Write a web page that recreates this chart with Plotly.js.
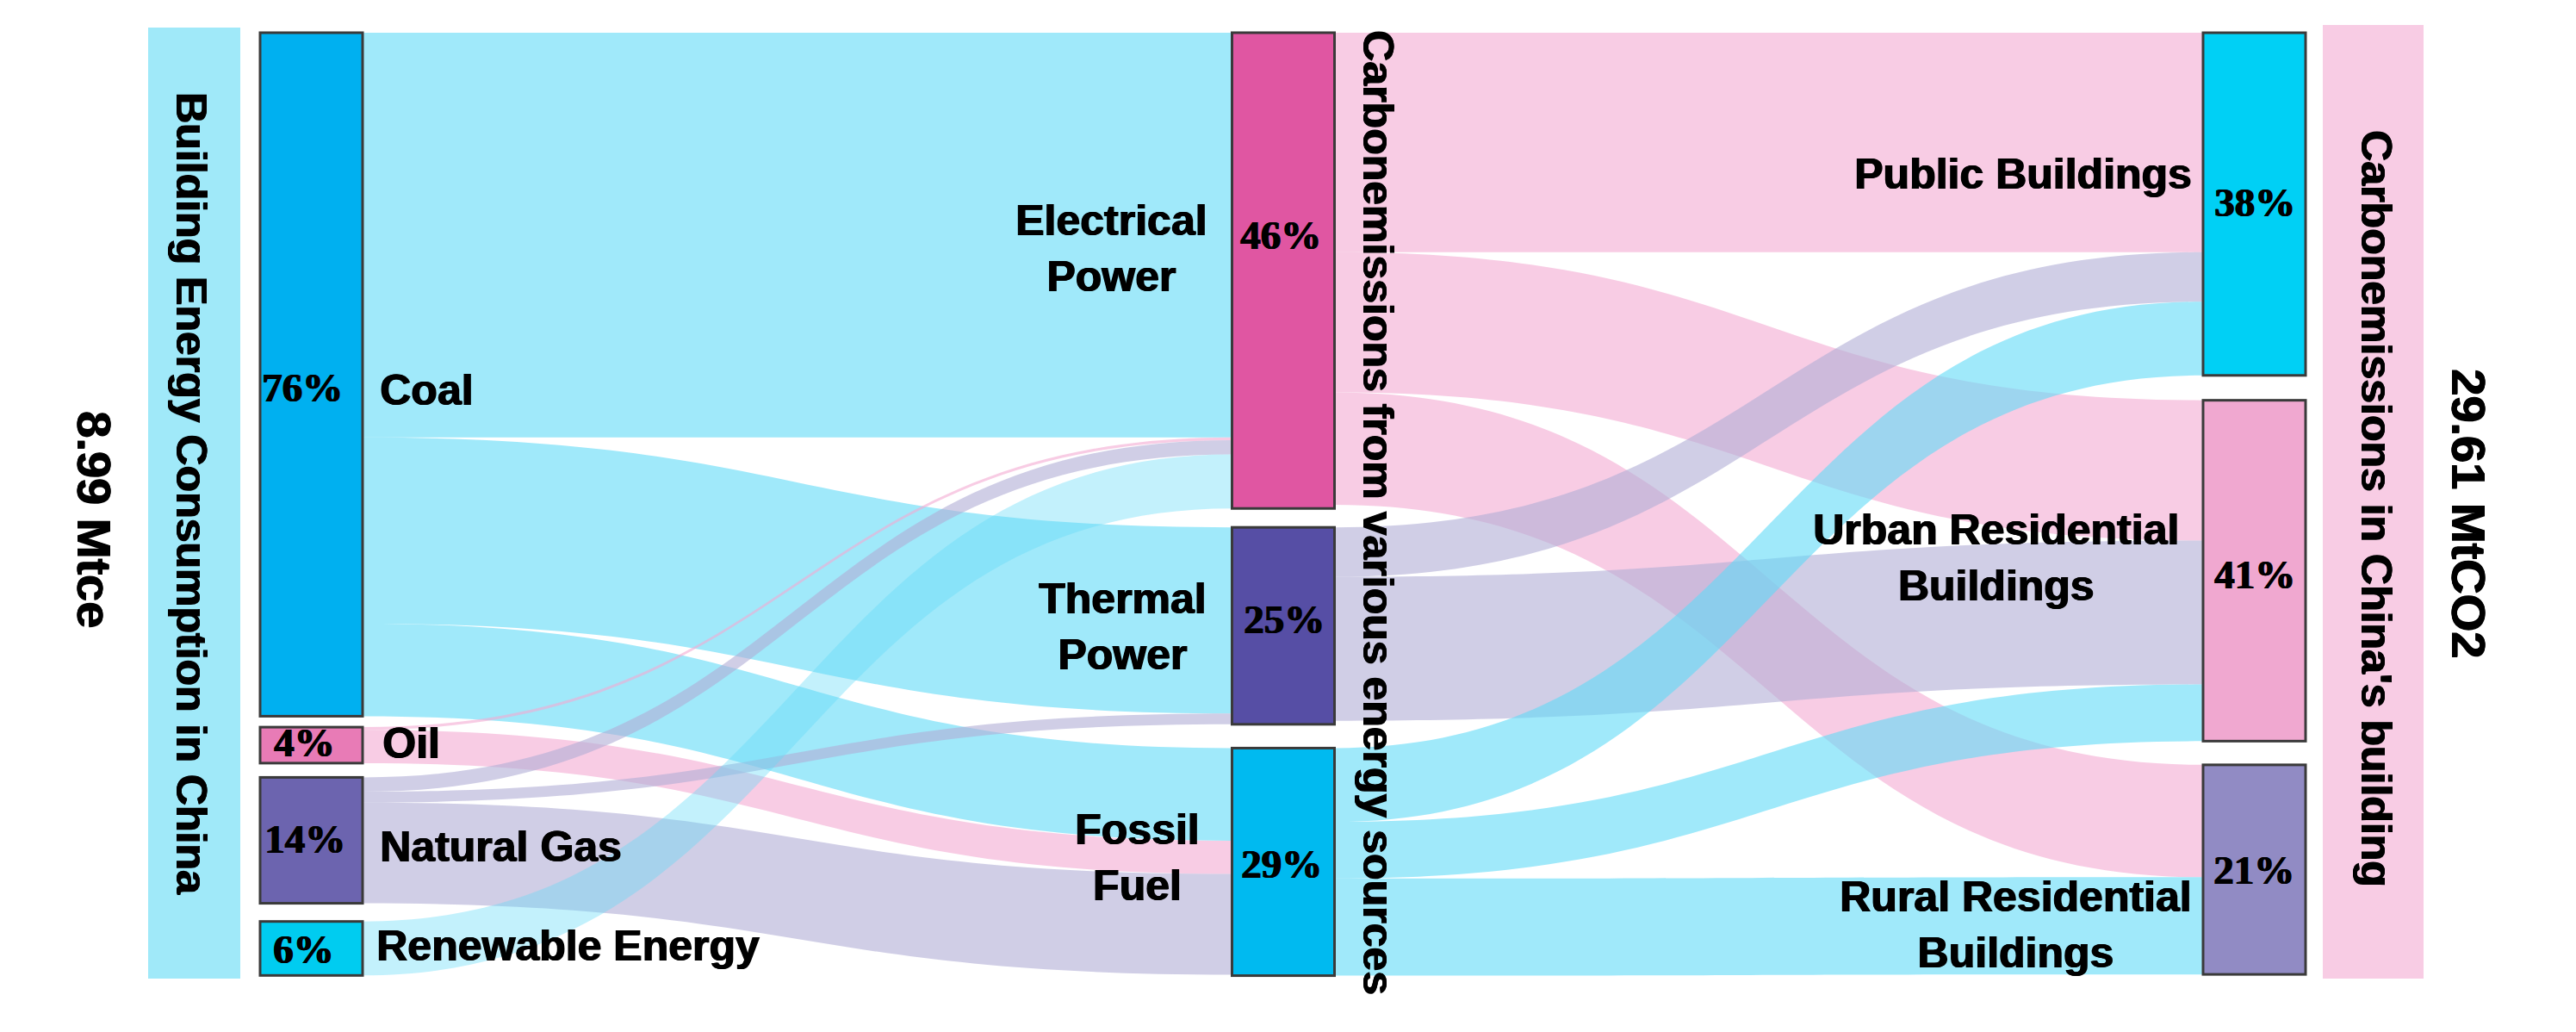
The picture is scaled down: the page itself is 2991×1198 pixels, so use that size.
<!DOCTYPE html>
<html>
<head>
<meta charset="utf-8">
<script src="https://cdn.plot.ly/plotly-3.0.1.min.js"></script>
<style>
  html, body { margin: 0; padding: 0; background: #ffffff; }
  #chart { width: 2991px; height: 1198px; }
</style>
</head>
<body>
<div id="chart"></div>
<script>
// ---------------- DATA ----------------
const nodeNames = ["Coal", "Oil", "Natural Gas", "Renewable Energy",
                   "Electrical Power", "Thermal Power", "Fossil Fuel",
                   "Public Buildings", "Urban Residential Buildings", "Rural Residential Buildings"];
const nodeShares = ["76%", "4%", "14%", "6%", "46%", "25%", "29%", "38%", "41%", "21%"];
const linkSources = [0, 0, 0, 1, 1, 2, 2, 2, 3, 4, 4, 4, 5, 5, 6, 6, 6];
const linkTargets = [4, 5, 6, 4, 6, 4, 5, 6, 4, 7, 8, 9, 7, 8, 7, 8, 9];
const linkValues  = [45.0, 20.7, 10.3, 0.3, 3.7, 1.6, 1.2, 11.2, 6.0,
                     24.4, 15.6, 12.5, 5.5, 16.0, 8.2, 6.3, 10.8];
const leftTitle = "Building Energy Consumption in China";
const middleTitle = "Carbonemissions from various energy sources";
const rightTitle = "Carbonemissions in China's building";
const totalEnergy = "8.99 Mtce";
const totalCarbon = "29.61 MtCO2";

// ---------------- LAYOUT / STYLE ----------------
const W = 2991, H = 1198;
const nodeColors = ["#00B0F0", "#E87BB6", "#6C64AF", "#00CCF0",
                    "#E056A2", "#564EA5", "#00BAF0",
                    "#00D0F5", "#F0A8D0", "#918BC4"];
const linkColorBySource = {
  0: "rgba(96,219,247,0.6)",
  1: "rgba(243,170,210,0.6)",
  2: "rgba(177,173,213,0.6)",
  3: "rgba(96,219,247,0.38)",
  4: "rgba(243,170,210,0.6)",
  5: "rgba(177,173,213,0.6)",
  6: "rgba(96,219,247,0.6)"
};
// node centres in pixels
const nodeCx = [361.5, 361.5, 361.5, 361.5, 1490, 1490, 1490, 2617.5, 2617.5, 2617.5];
const nodeCy = [434.7, 865, 975.5, 1101, 314.1, 726.5, 1000.5, 236.9, 662.5, 1009.5];

// label positions (pixels)
const labelPos = [
  {x: 439, y: 453, a: "left"},
  {x: 442, y: 863, a: "left"},
  {x: 439, y: 983, a: "left"},
  {x: 435, y: 1098, a: "left"},
  {x: 1290, y: 288, a: "center"},
  {x: 1303, y: 727, a: "center"},
  {x: 1320, y: 995, a: "center"},
  {x: 2349, y: 202, a: "center"},
  {x: 2317, y: 648, a: "center"},
  {x: 2340, y: 1073, a: "center"}
];
const labelText = ["Coal", "Oil", "Natural Gas", "Renewable Energy",
                   "Electrical<br>Power", "Thermal<br>Power", "Fossil<br>Fuel",
                   "Public Buildings", "Urban Residential<br>Buildings", "Rural Residential<br>Buildings"];
const sharePos = [
  [351, 450], [353, 862], [354, 974], [352, 1102],
  [1487, 273], [1491, 719], [1488, 1003],
  [2618, 235], [2618, 667], [2617, 1010]
];

const px = v => v / W;
const py = v => 1 - v / H;

const heavy = "1px 0px 0px #000, -0.5px 0px 0px #000";
const sansFont = {family: "'Liberation Sans', Arial, sans-serif", size: 50, color: "#000", shadow: heavy};
const serifFont = {family: "'Liberation Serif', 'Times New Roman', serif", size: 47, color: "#000", shadow: heavy};

const trace = {
  type: "sankey",
  orientation: "h",
  arrangement: "fixed",
  domain: {x: [0, 1], y: [0, 1]},
  hoverinfo: "none",
  node: {
    label: nodeNames.map(() => ""),
    customdata: nodeNames,
    color: nodeColors,
    thickness: 119,
    pad: 51.33,
    x: nodeCx.map(v => v / W),
    y: nodeCy.map(v => v / H),
    line: {color: "#3a3a3a", width: 3}
  },
  link: {
    source: linkSources,
    target: linkTargets,
    value: linkValues,
    color: linkSources.map(s => linkColorBySource[s]),
    line: {width: 0}
  }
};

const annotations = [];
nodeNames.forEach((n, i) => {
  annotations.push({
    xref: "paper", yref: "paper",
    x: px(labelPos[i].x), y: py(labelPos[i].y),
    xanchor: labelPos[i].a, yanchor: "middle",
    align: "center",
    text: "<b>" + labelText[i] + "</b>",
    showarrow: false, font: sansFont
  });
  annotations.push({
    xref: "paper", yref: "paper",
    x: px(sharePos[i][0]), y: py(sharePos[i][1]),
    xanchor: "center", yanchor: "middle",
    text: "<b>" + nodeShares[i] + "</b>",
    showarrow: false, font: serifFont
  });
});
const rotated = [
  {t: totalEnergy, x: 110, y: 603, s: 56},
  {t: leftTitle, x: 222, y: 573, s: 50},
  {t: middleTitle, x: 1600, y: 595, s: 50},
  {t: rightTitle, x: 2759, y: 590, s: 50},
  {t: totalCarbon, x: 2867, y: 596, s: 56}
];
rotated.forEach(r => {
  annotations.push({
    xref: "paper", yref: "paper",
    x: px(r.x), y: py(r.y),
    xanchor: "center", yanchor: "middle",
    textangle: 90,
    text: "<b>" + r.t + "</b>",
    showarrow: false,
    font: Object.assign({}, sansFont, {size: r.s})
  });
});

const layout = {
  width: W, height: H,
  margin: {l: 0, r: 0, t: 0, b: 0, pad: 0},
  paper_bgcolor: "#ffffff",
  plot_bgcolor: "#ffffff",
  showlegend: false,
  shapes: [
    {type: "rect", xref: "paper", yref: "paper", layer: "below",
     x0: px(172), x1: px(279), y0: py(1136), y1: py(32),
     fillcolor: "#A0E9F9", line: {width: 0}},
    {type: "rect", xref: "paper", yref: "paper", layer: "below",
     x0: px(2697), x1: px(2814), y0: py(1136), y1: py(29),
     fillcolor: "#F8CCE4", line: {width: 0}}
  ],
  annotations: annotations
};

Plotly.newPlot("chart", [trace], layout, {displayModeBar: false, staticPlot: true});
</script>
</body>
</html>
